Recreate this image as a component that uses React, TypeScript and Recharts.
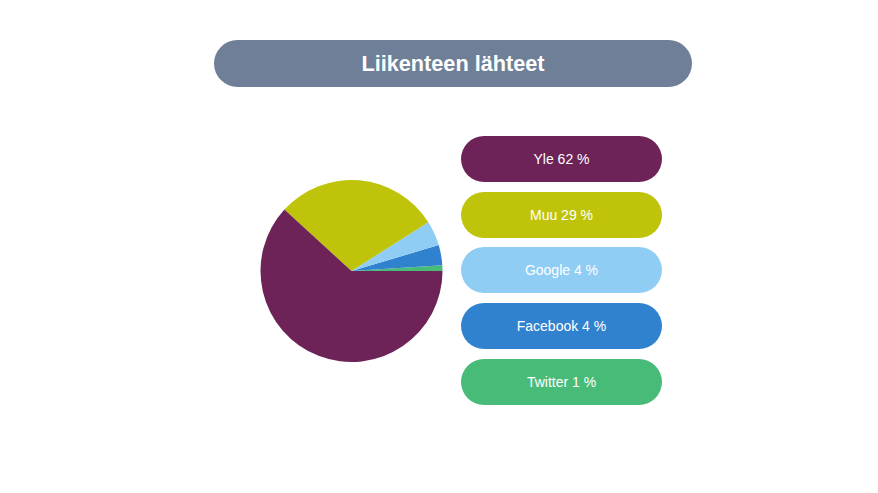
import React from "react";
import { PieChart, Pie, Cell, Legend } from "recharts";

const title = "Liikenteen lähteet";
const sources = ["Twitter", "Facebook", "Google", "Muu", "Yle"];
const shares = [1.0, 3.6, 4.4, 29.2, 61.8];
const colors = ["#48bb78", "#3182ce", "#90cdf4", "#bfc40b", "#6e2358"];
const legendOrder = ["Yle", "Muu", "Google", "Facebook", "Twitter"];

const data = sources.map((name, i) => ({ name, value: shares[i] }));

const font = "'Liberation Sans', Arial, sans-serif";

const LegendPills = () => (
  <div style={{ display: "flex", flexDirection: "column", gap: 9.7 }}>
    {legendOrder.map((name) => {
      const i = sources.indexOf(name);
      return (
        <div
          key={name}
          style={{
            width: 201,
            height: 46,
            borderRadius: 23,
            background: colors[i],
            color: "#ffffff",
            fontFamily: font,
            fontSize: 14,
            display: "flex",
            alignItems: "center",
            justifyContent: "center",
          }}
        >
          {`${name} ${Math.round(shares[i])} %`}
        </div>
      );
    })}
  </div>
);

export default function App() {
  return (
    <div style={{ position: "absolute", left: 0, top: 0, width: 878, height: 493, background: "#fff" }}>
      <div
        style={{
          position: "absolute",
          left: 214,
          top: 40,
          width: 478,
          height: 47,
          borderRadius: 24,
          background: "#6f7f97",
          color: "#ffffff",
          fontFamily: font,
          fontWeight: "bold",
          fontSize: 21.7,
          display: "flex",
          alignItems: "center",
          justifyContent: "center",
        }}
      >
        {title}
      </div>
      <div style={{ position: "absolute", left: 0, top: 0 }}>
        <PieChart width={878} height={493} margin={{ top: 0, right: 0, bottom: 0, left: 0 }}>
          <Pie
            data={data}
            dataKey="value"
            nameKey="name"
            cx={351.5}
            cy={271}
            outerRadius={91}
            startAngle={0}
            endAngle={360}
            stroke="none"
            isAnimationActive={false}
          >
            {data.map((d, i) => (
              <Cell key={d.name} fill={colors[i]} />
            ))}
          </Pie>
          <Legend
            content={<LegendPills />}
            wrapperStyle={{ position: "absolute", left: 461, top: 136, width: 201 }}
          />
        </PieChart>
      </div>
    </div>
  );
}
